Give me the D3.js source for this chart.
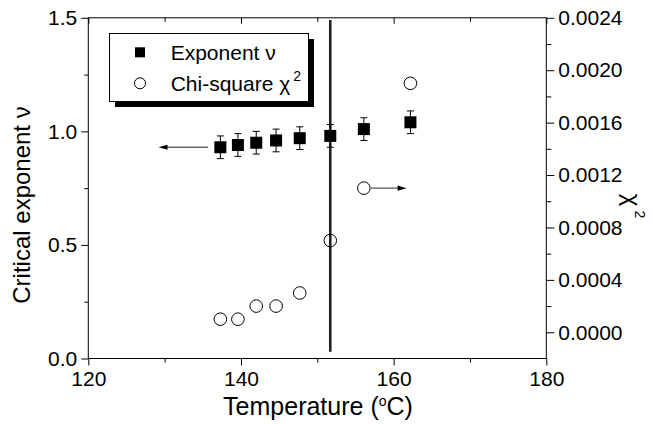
<!DOCTYPE html>
<html><head><meta charset="utf-8">
<script src="https://cdn.jsdelivr.net/npm/d3@7"></script>
<style>
body{margin:0;background:#fff}
text{font-family:"Liberation Sans",Arial,sans-serif;fill:#000}
</style>
</head><body>
<svg id="c" width="663" height="425"></svg>
<script>
// ---- data ----
const temperature = [137.3, 139.6, 142.0, 144.6, 147.7, 151.7, 156.1, 162.2];
const exponentNu  = [0.93, 0.94, 0.95, 0.96, 0.97, 0.98, 1.01, 1.04];
const exponentErr = [0.05, 0.05, 0.05, 0.05, 0.05, 0.05, 0.05, 0.05];
const chiSquare   = [0.0001, 0.0001, 0.0002, 0.0002, 0.0003, 0.0007, 0.0011, 0.0019];
const xTicks = [120, 140, 160, 180];
const xMinorTicks = [130, 150, 170];
const yLeftTicks = [0.0, 0.5, 1.0, 1.5];
const yLeftMinorTicks = [0.25, 0.75, 1.25];
const yRightTicks = [0.0000, 0.0004, 0.0008, 0.0012, 0.0016, 0.0020, 0.0024];
const yRightMinorTicks = [0.0002, 0.0006, 0.0010, 0.0014, 0.0018, 0.0022];
const transitionT = 151.7;
const transitionSpan = [0.03, 1.49];
const leftArrow  = {from: [135.7, 0.93], to: [129.2, 0.93]};
const rightArrow = {from: [157.0, 0.0011], to: [161.7, 0.0011]};
const legendLabels = ["Exponent \u03bd", "Chi-square \u03c7"];

// ---- layout ----
const L = 88.3, R = 546.3, T = 17.8, B = 358.5;
const svg = d3.select("#c");

const x  = d3.scaleLinear().domain([120, 180]).range([L, R]);
const yL = d3.scaleLinear().domain([0, 1.5]).range([B, T]);
const yR = d3.scaleLinear().domain([-0.0002, 0.0024]).range([B, T]);

function styleAxis(g){
  g.select(".domain").remove();
  g.selectAll("line").attr("stroke", "#000").attr("stroke-width", 1);
  g.selectAll("text").attr("font-size", 21).attr("font-family", '"Liberation Sans",Arial,sans-serif').attr("fill", "#000");
}

// bottom
svg.append("g").attr("transform", `translate(0,${B})`)
  .call(d3.axisBottom(x).tickValues(xTicks).tickSize(7).tickPadding(6).tickFormat(d3.format("d")))
  .call(styleAxis);
svg.append("g").attr("transform", `translate(0,${B})`)
  .call(d3.axisBottom(x).tickValues(xMinorTicks).tickSize(4).tickFormat(""))
  .call(styleAxis);
// top (inward)
svg.append("g").attr("transform", `translate(0,${T})`)
  .call(d3.axisTop(x).tickValues(xTicks).tickSize(-6).tickFormat(""))
  .call(styleAxis);
svg.append("g").attr("transform", `translate(0,${T})`)
  .call(d3.axisTop(x).tickValues(xMinorTicks).tickSize(-4).tickFormat(""))
  .call(styleAxis);
// left
svg.append("g").attr("transform", `translate(${L},0)`)
  .call(d3.axisLeft(yL).tickValues(yLeftTicks).tickSize(7).tickPadding(4).tickFormat(d3.format(".1f")))
  .call(styleAxis);
svg.append("g").attr("transform", `translate(${L},0)`)
  .call(d3.axisLeft(yL).tickValues(yLeftMinorTicks).tickSize(4).tickFormat(""))
  .call(styleAxis);
// right
svg.append("g").attr("transform", `translate(${R},0)`)
  .call(d3.axisRight(yR).tickValues(yRightTicks).tickSize(8).tickPadding(4).tickFormat(d3.format(".4f")))
  .call(styleAxis);
svg.append("g").attr("transform", `translate(${R},0)`)
  .call(d3.axisRight(yR).tickValues(yRightMinorTicks).tickSize(5).tickFormat(""))
  .call(styleAxis);

// frame
svg.append("rect").attr("x", L).attr("y", T).attr("width", R - L).attr("height", B - T)
  .attr("fill", "none").attr("stroke", "#000").attr("stroke-width", 1);

// transition line
svg.append("line")
  .attr("x1", x(transitionT)).attr("x2", x(transitionT))
  .attr("y1", yL(transitionSpan[0])).attr("y2", yL(transitionSpan[1]))
  .attr("stroke", "#222").attr("stroke-width", 2.6);

// chi-square circles
svg.append("g").selectAll("circle").data(temperature).join("circle")
  .attr("cx", d => x(d)).attr("cy", (d, i) => yR(chiSquare[i])).attr("r", 6.3)
  .attr("fill", "none").attr("stroke", "#000").attr("stroke-width", 1);

// error bars
const eb = svg.append("g").attr("stroke", "#000").attr("stroke-width", 1);
temperature.forEach((t, i) => {
  const cx = x(t), y1 = yL(exponentNu[i] - exponentErr[i]), y2 = yL(exponentNu[i] + exponentErr[i]);
  eb.append("line").attr("x1", cx).attr("x2", cx).attr("y1", y1).attr("y2", y2);
  eb.append("line").attr("x1", cx - 3.5).attr("x2", cx + 3.5).attr("y1", y1).attr("y2", y1);
  eb.append("line").attr("x1", cx - 3.5).attr("x2", cx + 3.5).attr("y1", y2).attr("y2", y2);
});
// squares
const S = 12;
svg.append("g").selectAll("rect").data(temperature).join("rect")
  .attr("x", d => x(d) - S / 2).attr("y", (d, i) => yL(exponentNu[i]) - S / 2)
  .attr("width", S).attr("height", S).attr("fill", "#000");

// arrows
function arrow(x1, y1, x2, y2){
  const dir = Math.sign(x2 - x1);
  svg.append("line").attr("x1", x1).attr("x2", x2 - dir * 6).attr("y1", y1).attr("y2", y2)
    .attr("stroke", "#666").attr("stroke-width", 1.4);
  svg.append("path")
    .attr("d", `M${x2},${y2} L${x2 - dir * 9},${y2 - 2.6} L${x2 - dir * 9},${y2 + 2.6} Z`)
    .attr("fill", "#000");
}
arrow(x(leftArrow.from[0]), yL(leftArrow.from[1]), x(leftArrow.to[0]), yL(leftArrow.to[1]));
arrow(x(rightArrow.from[0]), yR(rightArrow.from[1]), x(rightArrow.to[0]), yR(rightArrow.to[1]));

// legend
const lg = svg.append("g");
lg.append("rect").attr("x", 115).attr("y", 39).attr("width", 199).attr("height", 68).attr("fill", "#000");
lg.append("rect").attr("x", 109.5).attr("y", 33.5).attr("width", 199).attr("height", 68)
  .attr("fill", "#fff").attr("stroke", "#000").attr("stroke-width", 1);
lg.append("rect").attr("x", 135).attr("y", 47.3).attr("width", 10).attr("height", 10).attr("fill", "#000");
lg.append("circle").attr("cx", 140).attr("cy", 83.3).attr("r", 5.5).attr("fill", "none").attr("stroke", "#000");
lg.append("text").attr("x", 170.7).attr("y", 59.5).attr("font-size", 21).text(legendLabels[0]);
const t2 = lg.append("text").attr("x", 170.7).attr("y", 91).attr("font-size", 21).text(legendLabels[1]);
t2.append("tspan").attr("dx", 3).attr("dy", -10).attr("font-size", 14).text("2");

// axis titles
svg.append("text").attr("x", 318).attr("y", 415).attr("text-anchor", "middle").attr("font-size", 25)
  .text("Temperature (")
  .call(t => { t.append("tspan").attr("dy", -9).attr("font-size", 14).text("o");
               t.append("tspan").attr("dy", 9).text("C)"); });
svg.append("text").attr("transform", "translate(30,205) rotate(-90)").attr("text-anchor", "middle")
  .attr("font-size", 24).text("Critical exponent \u03bd");
svg.append("text").attr("transform", "translate(624,206) rotate(90)").attr("text-anchor", "middle")
  .attr("font-size", 24).text("\u03c7")
  .append("tspan").attr("dx", 4).attr("dy", -11).attr("font-size", 14).text("2");
</script>
</body></html>
